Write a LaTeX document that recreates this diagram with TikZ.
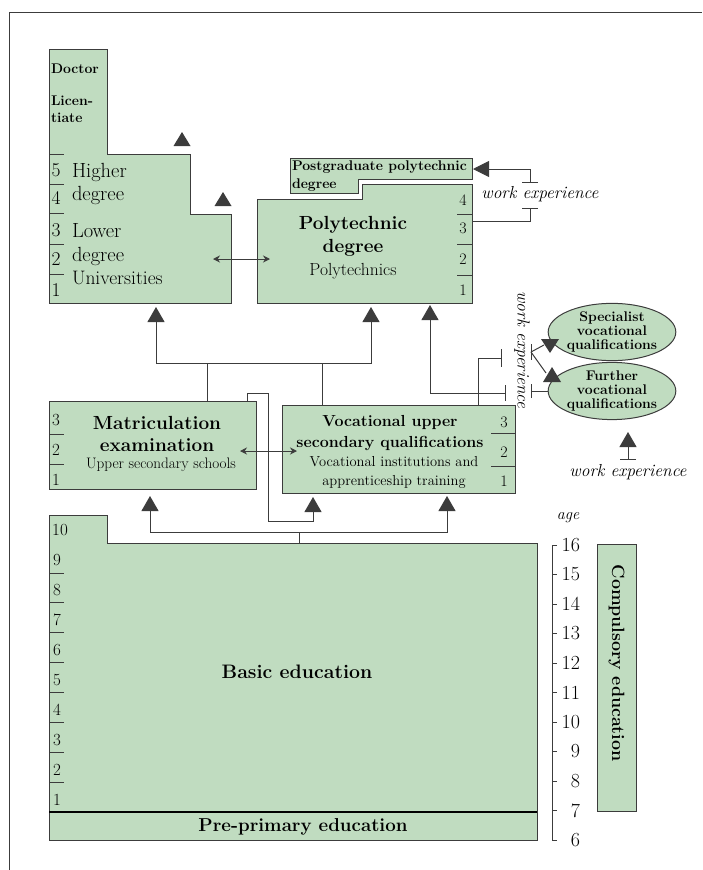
\documentclass[tikz,border=0pt]{standalone}
\usepackage{fontspec}
\usetikzlibrary{arrows.meta,shapes.geometric}
\definecolor{zonefill}{RGB}{192,220,192}
\definecolor{ink}{RGB}{60,60,60}
\newcommand{\fsz}[2]{\fontsize{#1pt}{#2pt}\selectfont}
\begin{document}
\begin{tikzpicture}[x=1pt,y=-1pt,
  every node/.style={inner sep=0pt,outer sep=0pt},
  zone/.style={draw=ink,fill=zonefill,line width=1pt},
  link/.style={draw=ink,line width=1pt},
  uptip/.style={link,-{Triangle[width=17pt,length=15pt]}},
  twoway/.style={link,{Stealth[width=7pt,length=7pt]}-{Stealth[width=7pt,length=7pt]}},
  tickline/.style={draw=ink,line width=1pt},
  wexp/.style={font=\itshape\fsz{17.4}{17.4}},
  oval/.style={zone,ellipse,minimum width=98pt,minimum height=44pt,align=center,font=\bfseries\fsz{14}{14}},
]
\useasboundingbox (0,0) rectangle (702,870);

% outer frame
\draw[link] (9,870) -- (9,12) -- (702,12);

% ---------- Universities ----------
\draw[zone] (49,49) -- (107,49) -- (107,154) -- (190,154) -- (190,214) -- (231,214)
  -- (231,303) -- (49,303) -- cycle;
\foreach \y in {154,184,213,244,274} \draw[tickline] (49,\y) -- (64,\y);
\foreach \n/\y in {5/170,4/198,3/230,2/259,1/290}
  \node[font=\fsz{19.5}{19.5}] (u\n) at (56,\y) {\n};
\node[anchor=west,font=\bfseries\fsz{14}{14}] (doc) at (51,69) {Doctor};
\node[anchor=west,align=left,font=\bfseries\fsz{14}{17}] (lic) at (51,109) {Licen-\\tiate};
\node[anchor=west,align=left,font=\fsz{20.5}{23}] (hideg) at (72,184) {Higher\\degree};
\node[anchor=west,align=left,font=\fsz{20.5}{24}] (lodeg) at (72,245) {Lower\\degree};
\node[anchor=west,font=\fsz{19.5}{19.5}] (univ) at (72,278) {Universities};
% continuation marks above the university steps
\fill[ink] (182,132) -- ++(8.5,14) -- ++(-17,0) -- cycle;
\fill[ink] (223,192) -- ++(8.5,14) -- ++(-17,0) -- cycle;

% ---------- Polytechnics ----------
\draw[zone] (290,158) -- (472,158) -- (472,179) -- (358,179) -- (358,193) -- (290,193) -- cycle;
\node[anchor=west,font=\bfseries\fsz{14}{14}] (pg1) at (292,167) {Postgraduate polytechnic};
\node[anchor=west,font=\bfseries\fsz{14}{14}] (pg2) at (292,185) {degree};
\draw[zone] (257,199) -- (362,199) -- (362,184) -- (472,184) -- (472,303) -- (257,303) -- cycle;
\foreach \y in {214,244,275} \draw[tickline] (457,\y) -- (472,\y);
\foreach \n/\y in {4/200,3/228,2/259,1/290}
  \node[font=\fsz{16}{16}] (p\n) at (463,\y) {\n};
\node[align=center,font=\bfseries\fsz{19}{23}] (polydeg) at (353,236) {Polytechnic\\degree};
\node[font=\fsz{17.5}{17.5}] (polys) at (353,271) {Polytechnics};

% ---------- Upper secondary ----------
\node[zone,minimum width=207pt,minimum height=88pt] (matric) at (152.5,445) {};
\foreach \y in {434,464} \draw[tickline] (49,\y) -- (64,\y);
\foreach \n/\y in {3/420,2/450,1/480}
  \node[font=\fsz{17}{17}] (m\n) at (56,\y) {\n};
\node[align=center,font=\bfseries\fsz{19}{22}] (mattxt) at (157,434) {Matriculation\\examination};
\node[font=\fsz{15.2}{15.2}] (upsec) at (161,465) {Upper secondary schools};

\node[zone,minimum width=233pt,minimum height=88pt] (voc) at (398.5,449) {};
\foreach \y in {433,466} \draw[tickline] (491,\y) -- (515,\y);
\foreach \n/\y in {3/422,2/452,1/481}
  \node[font=\fsz{16}{16}] (v\n) at (504,\y) {\n};
\node[align=center,font=\bfseries\fsz{16}{21}] (voctxt) at (390,433.5) {Vocational upper\\secondary qualifications};
\node[align=center,font=\fsz{14.5}{19}] (vocinst) at (394,472.5) {Vocational institutions and\\apprenticeship training};

% ---------- Basic and pre-primary ----------
\draw[zone] (49,515) -- (107,515) -- (107,543) -- (537,543) -- (537,840) -- (49,840) -- cycle;
\draw[line width=1.6pt,draw=black] (49,812) -- (537,812);
\foreach \k in {0,...,7} \draw[tickline] (49,573+29.9*\k) -- (64,573+29.9*\k);
\node[font=\fsz{17}{17}] (b10) at (60,530) {10};
\foreach \n in {1,...,9}
  \node[font=\fsz{17}{17}] (b\n) at (57,800-30*\n+30) {\n};
\node[font=\bfseries\fsz{19.5}{19.5}] (basic) at (297,672) {Basic education};
\node[font=\bfseries\fsz{18.7}{18.7}] (prepri) at (303,827) {Pre-primary education};

% ---------- Age scale ----------
\node[font=\itshape\fsz{16}{16}] (agelbl) at (568,518) {age};
\draw[link] (557,545) -- (552,545) -- (552,840) -- (557,840);
\foreach \a in {7,...,15} \draw[tickline] (552,{545+(16-\a)*29.5}) -- (557,{545+(16-\a)*29.5});
\foreach \a in {6,...,16}
  \node[anchor=east,font=\fsz{20}{20}] (age\a) at (580,{545+(16-\a)*29.5}) {\a};

\node[zone,minimum width=39pt,minimum height=267pt] (compbox) at (616.5,677.5) {};
\node[rotate=-90,font=\bfseries\fsz{17.8}{17.8}] (comptxt) at (616.5,663) {Compulsory education};

% ---------- Further qualifications ----------
\node[oval] (spec) at (612,332) {Specialist\\vocational\\qualifications};
\node[oval] (further) at (612,391) {Further\\vocational\\qualifications};

% ---------- connection points ----------
\coordinate (uniIn) at (156,307);
\coordinate (polyInA) at (371,307);
\coordinate (polyInB) at (430,305);
\coordinate (matTopA) at (207,401);
\coordinate (matTopB) at (247,401);
\coordinate (vocTopA) at (322,405);
\coordinate (vocTopB) at (478,405);
\coordinate (busUp) at (0,363);
\coordinate (busLow) at (0,532);
\coordinate (basicTop) at (299,543);
\coordinate (matIn) at (150,496);
\coordinate (vocInA) at (313,497);
\coordinate (vocInB) at (447,496);
\coordinate (uniMid) at (213,259);
\coordinate (polyMid) at (270,259);
\coordinate (matMid) at (240,451);
\coordinate (vocMid) at (297,451);
\coordinate (wxA) at (506,393);
\coordinate (wxB) at (502,358);
\coordinate (wxC) at (531,352);
\coordinate (wxD) at (531,391);
\coordinate (wxE) at (530,183);
\coordinate (wxF) at (530,208);
\coordinate (wxG) at (628,460);
\coordinate (pgIn) at (473,169);
\coordinate (polyOut) at (472,221);
\coordinate (furIn) at (628,432);

% ---------- connectors ----------
\draw[twoway] (uniMid) -- (polyMid);
\draw[twoway] (matMid) -- (vocMid);

\draw[uptip] (matTopA) -- (matTopA |- busUp) -| (uniIn);
\draw[uptip] (vocTopA) -- (vocTopA |- busUp) -| (polyInA);
\draw[link] (matTopA |- busUp) -- (vocTopA |- busUp);

\draw[uptip] (basicTop) -- (basicTop |- busLow) -| (matIn);
\draw[uptip] (basicTop |- busLow) -| (vocInB);
\draw[uptip] (matTopB) -- (247,393) -- (268,393) -- (268,521) -| (vocInA);

\draw[link,{Bar[width=16pt]}-{Triangle[width=17pt,length=15pt]}] (wxA) -| (polyInB);
\draw[link,-{Bar[width=18pt]}] (vocTopB) |- (wxB);

\draw[link] (wxC) ++(0,-8) -- ++(0,16);
\draw[link] (wxC) -- (544,345);
\draw[link] (wxC) -- (546,373);
\fill[ink] (550,353) -- (559,339) -- (541,339) -- cycle;
\fill[ink] (552,367) -- (561,382) -- (543,382) -- cycle;
\draw[link,{Bar[width=14pt]}-] (wxD) -- (further.west);

\draw[link,{Bar[width=16pt]}-{Triangle[width=16pt,length=16pt]}] (wxE) |- (pgIn);
\draw[link,{Bar[width=16pt]}-] (wxF) |- (polyOut);
\draw[link,{Bar[width=16pt]}-{Triangle[width=17pt,length=15pt]}] (wxG) -- (furIn);

% ---------- work experience labels ----------
\node[wexp] (wexTop) at (540,194) {work experience};
\node[wexp,rotate=-90] (wexSide) at (522,350) {work experience};
\node[wexp] (wexLow) at (628,472) {work experience};
\end{tikzpicture}
\end{document}
